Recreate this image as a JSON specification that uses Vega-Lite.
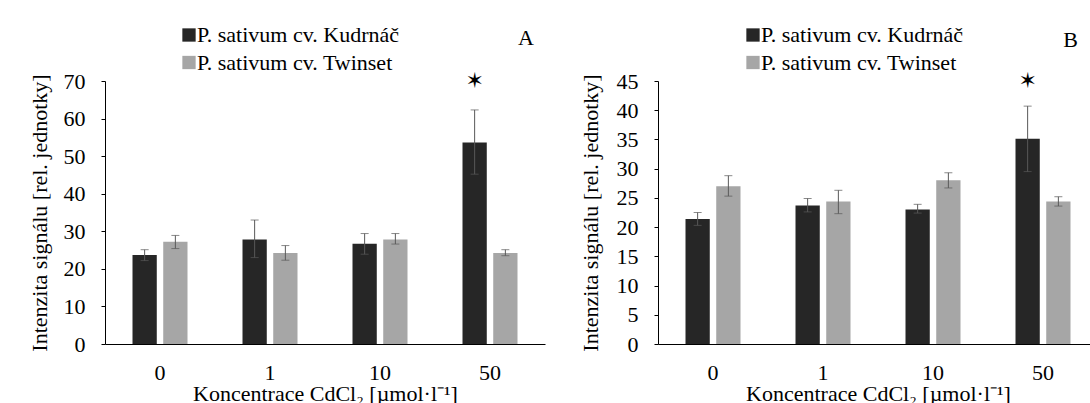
{
  "$schema": "https://vega.github.io/schema/vega-lite/v6.json",
  "background": "white",
  "padding": {"left": 27, "top": 24, "right": 0, "bottom": 0},
  "spacing": 33,
  "config": {
    "font": "Liberation Serif",
    "view": {"stroke": null},
    "axis": {
      "labelFont": "Liberation Serif",
      "labelFontSize": 22,
      "labelColor": "black",
      "labelOverlap": false,
      "titleFont": "Liberation Serif",
      "titleFontSize": 22,
      "titleFontWeight": "normal",
      "titleColor": "black",
      "domainColor": "black",
      "tickColor": "black",
      "grid": false
    },
    "title": {"font": "Liberation Serif", "fontSize": 22, "fontWeight": "normal", "color": "black", "anchor": "end"},
    "legend": {
      "orient": "none",
      "title": null,
      "symbolType": "square",
      "symbolSize": 177,
      "symbolStrokeWidth": 0,
      "labelFont": "Liberation Serif",
      "labelFontSize": 22,
      "labelColor": "black",
      "labelOffset": -3,
      "rowPadding": 5.5,
      "padding": 0,
      "labelLimit": 400
    }
  },
  "resolve": {
    "scale": {"x": "independent", "y": "independent", "xOffset": "independent", "color": "independent"},
    "axis": {"x": "independent", "y": "independent"},
    "legend": {"color": "independent"}
  },
  "hconcat": [
    {
      "width": 440,
      "height": 263,
      "title": {"text": "A", "dx": -11, "offset": -26},
      "data": {"values": [
        {"conc": "0", "cultivar": "P. sativum cv. Kudrnáč", "mean": 23.7, "lo": 22.2, "hi": 25.1},
        {"conc": "0", "cultivar": "P. sativum cv. Twinset", "mean": 27.2, "lo": 25.4, "hi": 28.9},
        {"conc": "1", "cultivar": "P. sativum cv. Kudrnáč", "mean": 27.8, "lo": 23.0, "hi": 33.0},
        {"conc": "1", "cultivar": "P. sativum cv. Twinset", "mean": 24.2, "lo": 22.3, "hi": 26.2},
        {"conc": "10", "cultivar": "P. sativum cv. Kudrnáč", "mean": 26.7, "lo": 23.9, "hi": 29.4},
        {"conc": "10", "cultivar": "P. sativum cv. Twinset", "mean": 27.8, "lo": 26.6, "hi": 29.4},
        {"conc": "50", "cultivar": "P. sativum cv. Kudrnáč", "mean": 53.6, "lo": 45.2, "hi": 62.3},
        {"conc": "50", "cultivar": "P. sativum cv. Twinset", "mean": 24.2, "lo": 23.5, "hi": 25.1}
      ]},
      "encoding": {
        "x": {
          "field": "conc", "type": "nominal", "sort": ["0", "1", "10", "50"],
          "scale": {"paddingInner": 0.5, "paddingOuter": 0.25},
          "axis": {"title": "Koncentrace CdCl₂ [µmol·l⁻¹]", "labelAngle": 0, "ticks": false, "labelPadding": 18, "titlePadding": 0, "labelOverlap": false, "labelFont": "Liberation Serif", "labelFontSize": 22}
        },
        "xOffset": {
          "field": "cultivar", "type": "nominal",
          "sort": ["P. sativum cv. Kudrnáč", "P. sativum cv. Twinset"],
          "scale": {"paddingInner": 0.21}
        }
      },
      "layer": [
        {
          "mark": {"type": "bar"},
          "encoding": {
            "y": {
              "field": "mean", "type": "quantitative",
              "scale": {"domain": [0, 70], "nice": false},
              "axis": {"title": "Intenzita signálu [rel. jednotky]", "values": [0, 10, 20, 30, 40, 50, 60, 70], "tickCount": 8, "tickSize": 4, "labelPadding": 16, "titlePadding": 12, "labelOverlap": false, "labelFont": "Liberation Serif", "labelFontSize": 22}
            },
            "color": {
              "field": "cultivar", "type": "nominal",
              "scale": {"domain": ["P. sativum cv. Kudrnáč", "P. sativum cv. Twinset"], "range": ["#262626", "#a6a6a6"]},
              "legend": {"legendX": 73, "legendY": -57}
            }
          }
        },
        {
          "mark": {"type": "rule", "color": "#595959", "strokeWidth": 1},
          "encoding": {
            "y": {"field": "lo", "type": "quantitative", "axis": {"title": "Intenzita signálu [rel. jednotky]", "values": [0, 10, 20, 30, 40, 50, 60, 70], "tickCount": 8, "tickSize": 4, "labelPadding": 16, "titlePadding": 12, "labelOverlap": false, "labelFont": "Liberation Serif", "labelFontSize": 22}},
            "y2": {"field": "hi"}
          }
        },
        {
          "mark": {"type": "tick", "color": "#595959", "size": 8, "thickness": 1},
          "encoding": {"y": {"field": "lo", "type": "quantitative", "axis": {"title": "Intenzita signálu [rel. jednotky]", "values": [0, 10, 20, 30, 40, 50, 60, 70], "tickCount": 8, "tickSize": 4, "labelPadding": 16, "titlePadding": 12, "labelOverlap": false, "labelFont": "Liberation Serif", "labelFontSize": 22}}}
        },
        {
          "mark": {"type": "tick", "color": "#595959", "size": 8, "thickness": 1},
          "encoding": {"y": {"field": "hi", "type": "quantitative", "axis": {"title": "Intenzita signálu [rel. jednotky]", "values": [0, 10, 20, 30, 40, 50, 60, 70], "tickCount": 8, "tickSize": 4, "labelPadding": 16, "titlePadding": 12, "labelOverlap": false, "labelFont": "Liberation Serif", "labelFontSize": 22}}}
        },
        {
          "data": {"values": [{"conc": "50", "cultivar": "P. sativum cv. Kudrnáč", "label": "✶"}]},
          "mark": {"type": "text", "font": "DejaVu Sans", "fontSize": 22, "baseline": "middle", "color": "black"},
          "encoding": {"y": {"datum": 70, "type": "quantitative", "axis": {"title": "Intenzita signálu [rel. jednotky]", "values": [0, 10, 20, 30, 40, 50, 60, 70], "tickCount": 8, "tickSize": 4, "labelPadding": 16, "titlePadding": 12, "labelOverlap": false, "labelFont": "Liberation Serif", "labelFontSize": 22}}, "text": {"field": "label"}}
        }
      ]
    },
    {
      "width": 440,
      "height": 263,
      "title": {"text": "B", "dx": -20, "offset": -28},
      "data": {"values": [
        {"conc": "0", "cultivar": "P. sativum cv. Kudrnáč", "mean": 21.4, "lo": 20.3, "hi": 22.5},
        {"conc": "0", "cultivar": "P. sativum cv. Twinset", "mean": 27.0, "lo": 25.3, "hi": 28.8},
        {"conc": "1", "cultivar": "P. sativum cv. Kudrnáč", "mean": 23.7, "lo": 22.6, "hi": 24.9},
        {"conc": "1", "cultivar": "P. sativum cv. Twinset", "mean": 24.4, "lo": 22.3, "hi": 26.3},
        {"conc": "10", "cultivar": "P. sativum cv. Kudrnáč", "mean": 23.0, "lo": 22.4, "hi": 23.9},
        {"conc": "10", "cultivar": "P. sativum cv. Twinset", "mean": 28.0, "lo": 26.7, "hi": 29.3},
        {"conc": "50", "cultivar": "P. sativum cv. Kudrnáč", "mean": 35.1, "lo": 29.5, "hi": 40.7},
        {"conc": "50", "cultivar": "P. sativum cv. Twinset", "mean": 24.4, "lo": 23.6, "hi": 25.2}
      ]},
      "encoding": {
        "x": {
          "field": "conc", "type": "nominal", "sort": ["0", "1", "10", "50"],
          "scale": {"paddingInner": 0.5, "paddingOuter": 0.25},
          "axis": {"title": "Koncentrace CdCl₂ [µmol·l⁻¹]", "labelAngle": 0, "ticks": false, "labelPadding": 18, "titlePadding": 0, "labelOverlap": false, "labelFont": "Liberation Serif", "labelFontSize": 22}
        },
        "xOffset": {
          "field": "cultivar", "type": "nominal",
          "sort": ["P. sativum cv. Kudrnáč", "P. sativum cv. Twinset"],
          "scale": {"paddingInner": 0.21}
        }
      },
      "layer": [
        {
          "mark": {"type": "bar"},
          "encoding": {
            "y": {
              "field": "mean", "type": "quantitative",
              "scale": {"domain": [0, 45], "nice": false},
              "axis": {"title": "Intenzita signálu [rel. jednotky]", "values": [0, 5, 10, 15, 20, 25, 30, 35, 40, 45], "tickCount": 10, "tickSize": 4, "labelPadding": 16, "titlePadding": 14, "labelOverlap": false, "labelFont": "Liberation Serif", "labelFontSize": 22}
            },
            "color": {
              "field": "cultivar", "type": "nominal",
              "scale": {"domain": ["P. sativum cv. Kudrnáč", "P. sativum cv. Twinset"], "range": ["#262626", "#a6a6a6"]},
              "legend": {"legendX": 84, "legendY": -57}
            }
          }
        },
        {
          "mark": {"type": "rule", "color": "#595959", "strokeWidth": 1},
          "encoding": {
            "y": {"field": "lo", "type": "quantitative", "axis": {"title": "Intenzita signálu [rel. jednotky]", "values": [0, 5, 10, 15, 20, 25, 30, 35, 40, 45], "tickCount": 10, "tickSize": 4, "labelPadding": 16, "titlePadding": 14, "labelOverlap": false, "labelFont": "Liberation Serif", "labelFontSize": 22}},
            "y2": {"field": "hi"}
          }
        },
        {
          "mark": {"type": "tick", "color": "#595959", "size": 8, "thickness": 1},
          "encoding": {"y": {"field": "lo", "type": "quantitative", "axis": {"title": "Intenzita signálu [rel. jednotky]", "values": [0, 5, 10, 15, 20, 25, 30, 35, 40, 45], "tickCount": 10, "tickSize": 4, "labelPadding": 16, "titlePadding": 14, "labelOverlap": false, "labelFont": "Liberation Serif", "labelFontSize": 22}}}
        },
        {
          "mark": {"type": "tick", "color": "#595959", "size": 8, "thickness": 1},
          "encoding": {"y": {"field": "hi", "type": "quantitative", "axis": {"title": "Intenzita signálu [rel. jednotky]", "values": [0, 5, 10, 15, 20, 25, 30, 35, 40, 45], "tickCount": 10, "tickSize": 4, "labelPadding": 16, "titlePadding": 14, "labelOverlap": false, "labelFont": "Liberation Serif", "labelFontSize": 22}}}
        },
        {
          "data": {"values": [{"conc": "50", "cultivar": "P. sativum cv. Kudrnáč", "label": "✶"}]},
          "mark": {"type": "text", "font": "DejaVu Sans", "fontSize": 22, "baseline": "middle", "color": "black"},
          "encoding": {"y": {"datum": 45, "type": "quantitative", "axis": {"title": "Intenzita signálu [rel. jednotky]", "values": [0, 5, 10, 15, 20, 25, 30, 35, 40, 45], "tickCount": 10, "tickSize": 4, "labelPadding": 16, "titlePadding": 14, "labelOverlap": false, "labelFont": "Liberation Serif", "labelFontSize": 22}}, "text": {"field": "label"}}
        }
      ]
    }
  ]
}
